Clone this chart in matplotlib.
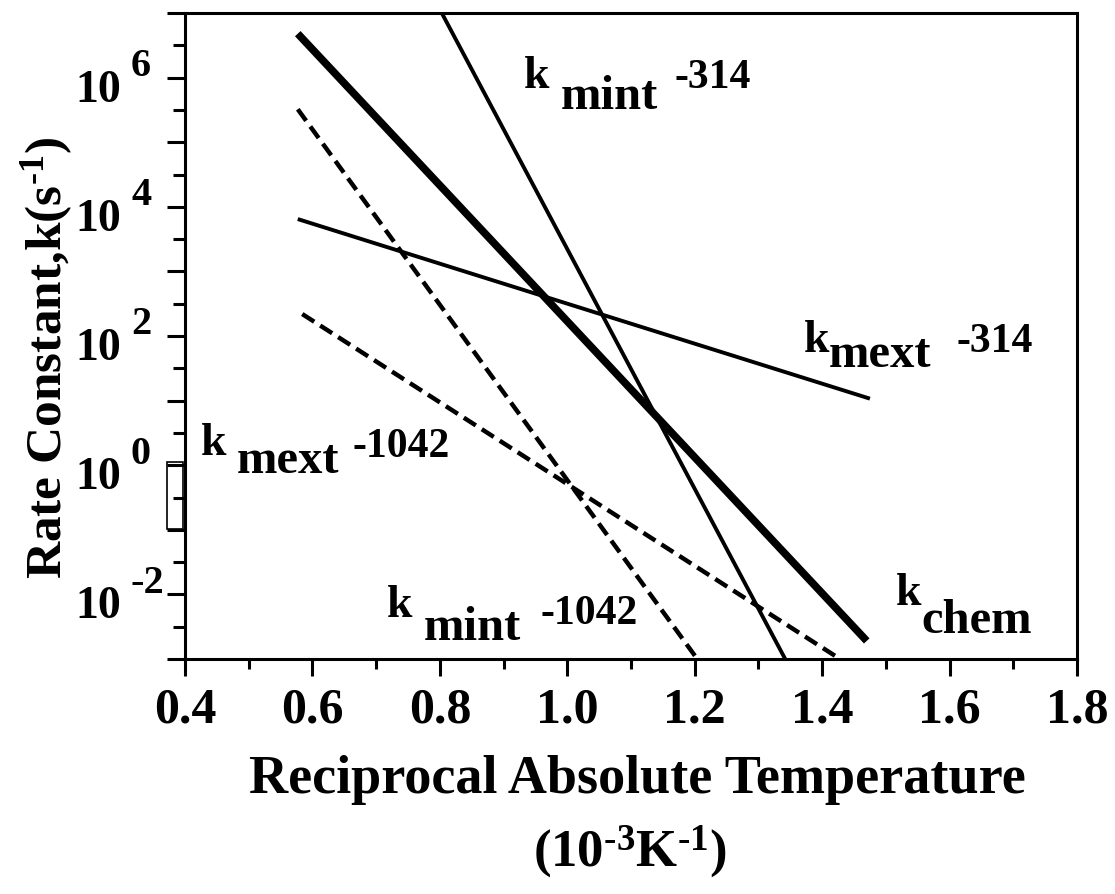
import matplotlib
matplotlib.use("Agg")
import matplotlib.pyplot as plt
import numpy as np
from matplotlib.ticker import FixedLocator, NullFormatter, FormatStrFormatter
from matplotlib.patches import Rectangle

plt.rcParams['font.family'] = ['Liberation Serif', 'DejaVu Serif']
plt.rcParams['font.weight'] = 'bold'
plt.rcParams['mathtext.fontset'] = 'custom'
plt.rcParams['mathtext.rm'] = 'Liberation Serif:bold'
plt.rcParams['mathtext.bf'] = 'Liberation Serif:bold'
plt.rcParams['mathtext.it'] = 'Liberation Serif:bold'
plt.rcParams['mathtext.default'] = 'bf'

# Arrhenius lines: endpoints (x in 1e-3/K, log10 k)
series = ['k_chem', 'k_mint-314', 'k_mext-314', 'k_mint-1042', 'k_mext-1042']
x_start = [0.577, 0.803, 0.577, 0.577, 0.584]
x_end = [1.470, 1.342, 1.475, 1.204, 1.428]
logk_start = [6.68, 7.0, 3.81, 5.51, 2.34]
logk_end = [-2.72, -3.0, 1.03, -3.0, -3.0]

x_ticks = [0.4, 0.6, 0.8, 1.0, 1.2, 1.4, 1.6, 1.8]
y_label_exps = [-2, 0, 2, 4, 6]

# line styles
widths = [5.5, 2.8, 2.8, 3.2, 3.2]
dashed = [False, False, False, True, True]

W, H = 1115, 895
fig = plt.figure(figsize=(W / 100, H / 100), dpi=100)
ax = fig.add_axes([185 / W, 1 - 660 / H, (1077 - 185) / W, (660 - 14) / H])
ax.set_yscale('log')

for i in range(len(series)):
    ls = (0, (3.2, 1.6)) if dashed[i] else '-'
    ax.plot([x_start[i], x_end[i]], [10.0 ** logk_start[i], 10.0 ** logk_end[i]],
            color='black', lw=widths[i], linestyle=ls, solid_capstyle='butt',
            dash_capstyle='butt')

ax.set_xlim(0.4, 1.8)
ax.set_ylim(1e-3, 1e7)

for s in ax.spines.values():
    s.set_linewidth(2.2)

ax.set_xticks(x_ticks)
ax.xaxis.set_minor_locator(FixedLocator(np.arange(0.5, 1.75, 0.2)))
ax.xaxis.set_major_formatter(FormatStrFormatter('%.1f'))
ax.yaxis.set_major_locator(FixedLocator(10.0 ** np.arange(-3, 8)))
ax.yaxis.set_minor_locator(FixedLocator(10.0 ** (np.arange(-3, 7) + 0.5)))
ax.yaxis.set_major_formatter(NullFormatter())
ax.yaxis.set_minor_formatter(NullFormatter())

ax.tick_params(axis='x', which='major', direction='out', length=12, width=2.2,
               labelsize=36, pad=8)
ax.tick_params(axis='x', which='minor', direction='out', length=7, width=2.2)
ax.tick_params(axis='y', which='major', direction='out', length=13, width=2.2)
ax.tick_params(axis='y', which='minor', direction='out', length=9, width=2.2)

# y tick labels: "10" with a large raised exponent
for e in y_label_exps:
    ax.annotate('10', xy=(0, 10.0 ** e), xycoords=('axes fraction', 'data'),
                xytext=(-64, -12), textcoords='offset pixels',
                ha='right', va='center', fontsize=33, fontweight='bold')
    ax.annotate(str(e), xy=(0, 10.0 ** e), xycoords=('axes fraction', 'data'),
                xytext=(-54, 12), textcoords='offset pixels',
                ha='left', va='center', fontsize=29, fontweight='bold')


def ptext(px, py, s, size):
    fig.text(px / W, 1 - py / H, s, fontsize=size, fontweight='bold',
             ha='left', va='baseline')


# curve labels: k, subscript, sample number
ptext(524, 88, 'k', 33); ptext(561, 109, 'mint', 35); ptext(675, 88, '-314', 30)
ptext(804, 352, 'k', 33); ptext(829, 367, 'mext', 35); ptext(957, 352, '-314', 30)
ptext(201, 455, 'k', 33); ptext(237, 473, 'mext', 35); ptext(352, 457, '-1042', 30)
ptext(387, 617, 'k', 33); ptext(424, 640, 'mint', 35); ptext(540, 624, '-1042', 30)
ptext(896, 605, 'k', 33); ptext(921, 633, 'chem', 35)

# axis titles
fig.text(637 / W, 1 - 793 / H, 'Reciprocal Absolute Temperature', fontsize=39,
         fontweight='bold', ha='center', va='baseline')
fig.text(630 / W, 1 - 866 / H, r'(10$^{\text{-3}}$K$^{\text{-1}}$)', fontsize=38,
         fontweight='bold', ha='center', va='baseline')
fig.text(47 / W, 1 - 358 / H, r'Rate Constant,k(s$^{\text{-1}}$)', fontsize=37,
         fontweight='bold', ha='center', va='center', rotation=90)

# small box left of the axis near 10^0
fig.patches.append(Rectangle((167 / W, 1 - 530 / H), 16 / W, 67 / H,
                             transform=fig.transFigure, fill=False, lw=1.2,
                             edgecolor='black'))

fig.savefig('out.png', dpi=100)
